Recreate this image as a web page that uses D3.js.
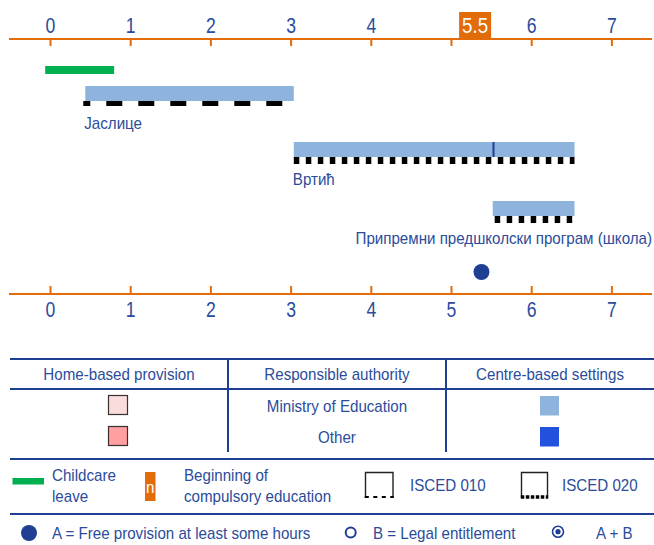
<!DOCTYPE html>
<html>
<head>
<meta charset="utf-8">
<script src="https://cdn.jsdelivr.net/npm/d3@7/dist/d3.min.js"></script>
<style>
  html, body { margin: 0; padding: 0; background: #fff; }
  svg { display: block; }
  text { font-family: "Liberation Sans", Arial, sans-serif; }
</style>
</head>
<body>
<svg id="chart" width="654" height="545"></svg>
<script>
// ---------- data ----------
const ageTicks = [0, 1, 2, 3, 4, 5, 6, 7];
const compulsoryAge = 5.5;
const childcareLeave = [-0.06, 0.8];
const programmeNames = ["Јаслице", "Вртић", "Припремни предшколски програм (школа)"];
const programmeStart = [0.44, 3.04, 5.52];
const programmeEnd = [3.04, 6.54, 6.54];
const programmeIsced = ["010", "020", "020"];
const programmeDivider = [null, 5.53, null];
const freeProvisionAge = [5.38];

const tableHeaders = ["Home-based provision", "Responsible authority", "Centre-based settings"];
const authorities = ["Ministry of Education", "Other"];
const homeColors = ["#fadcdc", "#ff9f9f"];
const centreColors = ["#8eb4de", "#2252dd"];

// ---------- styles ----------
const ORANGE = "#e36c0a";
const TEXT = "#2b4c9b";
const NAVY = "#1f3f94";
const BAR = "#8eb4de";
const W = 654;
const FS = 17, SX = 0.89;      // body text size and horizontal squeeze
const AFS = 22, ASX = 0.8;     // axis digits

const svg = d3.select("#chart");
const x = d3.scaleLinear().domain([0, 7]).range([50, 611.4]);

// condensed text helper
function txt(parent, tx, ty, str, o = {}) {
  const sx = o.sx || SX;
  return parent.append("text")
    .attr("x", tx / sx).attr("y", ty)
    .attr("transform", `scale(${sx},1)`)
    .attr("text-anchor", o.anchor || "start")
    .attr("fill", o.fill || TEXT)
    .attr("font-size", o.fs || FS)
    .text(str);
}

// ---------- top axis ----------
const topY = 39;
svg.append("line").attr("x1", 9).attr("x2", 652).attr("y1", topY).attr("y2", topY)
  .attr("stroke", ORANGE).attr("stroke-width", 2);
const gTop = svg.append("g").attr("transform", `translate(0,${topY})`)
  .call(d3.axisTop(x).tickValues(ageTicks).tickSizeInner(-7).tickSizeOuter(0).tickPadding(6)
    .tickFormat(d => d === Math.floor(compulsoryAge) ? "" : d3.format("d")(d)));
gTop.select(".domain").remove();
gTop.selectAll(".tick line").attr("stroke", ORANGE).attr("stroke-width", 2);
gTop.selectAll(".tick text").attr("fill", TEXT).attr("font-size", AFS).attr("transform", `scale(${ASX},1)`);

// compulsory education box
svg.append("rect").attr("x", x(compulsoryAge) - 32).attr("y", 12).attr("width", 32).attr("height", topY - 12)
  .attr("fill", ORANGE);
txt(svg, x(compulsoryAge) - 16, 33, compulsoryAge, { anchor: "middle", fill: "#fff", fs: AFS, sx: 0.85 });

// ---------- bottom axis ----------
const botY = 294;
svg.append("line").attr("x1", 9).attr("x2", 652).attr("y1", botY).attr("y2", botY)
  .attr("stroke", ORANGE).attr("stroke-width", 2);
const gBot = svg.append("g").attr("transform", `translate(0,${botY})`)
  .call(d3.axisBottom(x).tickValues(ageTicks).tickSizeInner(-8).tickSizeOuter(0).tickPadding(7)
    .tickFormat(d3.format("d")));
gBot.select(".domain").remove();
gBot.selectAll(".tick line").attr("stroke", ORANGE).attr("stroke-width", 2);
gBot.selectAll(".tick text").attr("fill", TEXT).attr("font-size", AFS).attr("transform", `scale(${ASX},1)`);

// ---------- childcare leave ----------
svg.append("rect").attr("x", x(childcareLeave[0])).attr("y", 66)
  .attr("width", x(childcareLeave[1]) - x(childcareLeave[0])).attr("height", 8)
  .attr("fill", "#00b050");

// ---------- programmes ----------
const rowY = d3.scaleOrdinal().domain(programmeNames).range([86, 142, 201]);
const barH = 15;
const progs = programmeNames.map((n, i) => ({ name: n, start: programmeStart[i], end: programmeEnd[i], isced: programmeIsced[i], divider: programmeDivider[i] }));

const pg = svg.selectAll("g.prog").data(progs).join("g").attr("class", "prog");
pg.append("rect")
  .attr("x", d => x(d.start)).attr("y", d => rowY(d.name))
  .attr("width", d => x(d.end) - x(d.start)).attr("height", barH)
  .attr("fill", BAR);
pg.filter(d => d.divider != null).append("line")
  .attr("x1", d => x(d.divider)).attr("x2", d => x(d.divider))
  .attr("y1", d => rowY(d.name)).attr("y2", d => rowY(d.name) + barH)
  .attr("stroke", NAVY).attr("stroke-width", 2);
// ISCED lines
pg.append("line")
  .attr("x1", d => x(d.start) - (d.isced === "010" ? 2 : 0)).attr("x2", d => x(d.end))
  .attr("y1", d => rowY(d.name) + barH + (d.isced === "010" ? 2.5 : 3.5))
  .attr("y2", d => rowY(d.name) + barH + (d.isced === "010" ? 2.5 : 3.5))
  .attr("stroke", "#000")
  .attr("stroke-width", d => d.isced === "010" ? 5 : 7)
  .attr("stroke-dasharray", d => d.isced === "010" ? "16,16" : "5.5,6.5")
  .attr("stroke-dashoffset", d => d.isced === "010" ? 9 : (d.start > 5 ? -2 : 0));
// labels
pg.each(function(d) {
  const t = txt(d3.select(this), 0, rowY(d.name) + 43, d.name);
  const w = t.node().getComputedTextLength() * SX;
  const lx = Math.min(x(d.start) - 1, W - 2 - w);
  t.attr("x", lx / SX);
});

// free provision dot
svg.selectAll("circle.free").data(freeProvisionAge).join("circle").attr("class", "free")
  .attr("cx", d => x(d)).attr("cy", 272).attr("r", 8).attr("fill", NAVY);

// ---------- table ----------
const colEdges = [10, 228, 446, 654];
const hLine = (y) => svg.append("line").attr("x1", 10).attr("x2", 654).attr("y1", y).attr("y2", y)
  .attr("stroke", NAVY).attr("stroke-width", 2);
hLine(359); hLine(389); hLine(459); hLine(514);
[228, 446].forEach(cx => svg.append("line").attr("x1", cx).attr("x2", cx).attr("y1", 359).attr("y2", 452)
  .attr("stroke", NAVY).attr("stroke-width", 2));

tableHeaders.forEach((h, i) => txt(svg, (colEdges[i] + colEdges[i + 1]) / 2, 380, h, { anchor: "middle" }));

const rowCy = [405.5, 436.5];
authorities.forEach((a, i) => txt(svg, 337, rowCy[i] + 6.5, a, { anchor: "middle" }));
svg.selectAll("rect.home").data(homeColors).join("rect").attr("class", "home")
  .attr("x", 108.5).attr("y", (d, i) => rowCy[i] - 10).attr("width", 19).attr("height", 19)
  .attr("fill", d => d).attr("stroke", "#3a3030").attr("stroke-width", 1.2);
svg.selectAll("rect.centre").data(centreColors).join("rect").attr("class", "centre")
  .attr("x", 540).attr("y", (d, i) => rowCy[i] - 9.5).attr("width", 19).attr("height", 19.5)
  .attr("fill", d => d);

// ---------- legend row 1 ----------
svg.append("rect").attr("x", 12.5).attr("y", 478).attr("width", 31.5).attr("height", 6.5).attr("fill", "#00b050");
txt(svg, 52, 481.5, "Childcare");
txt(svg, 52, 502.5, "leave");

svg.append("rect").attr("x", 145).attr("y", 472).attr("width", 10.5).attr("height", 29).attr("fill", ORANGE);
txt(svg, 150.3, 493, "n", { anchor: "middle", fill: "#fff" });
txt(svg, 184, 481.5, "Beginning of");
txt(svg, 184, 502.5, "compulsory education");

function iscedIcon(x0, x1, dash, sw) {
  const g = svg.append("g");
  g.append("path").attr("d", `M${x0},498 V472.5 H${x1} V498`).attr("fill", "none")
    .attr("stroke", "#222").attr("stroke-width", 1.4);
  g.append("line").attr("x1", x0 - 0.7).attr("x2", x1 + 0.7).attr("y1", 497).attr("y2", 497)
    .attr("stroke", "#000").attr("stroke-width", sw).attr("stroke-dasharray", dash);
}
iscedIcon(365.5, 393, "4,4.5", 2);
iscedIcon(521.5, 547.5, "3.5,1.5", 3.5);
txt(svg, 410, 491, "ISCED 010");
txt(svg, 562, 491, "ISCED 020");

// ---------- legend row 2 ----------
svg.append("circle").attr("cx", 29).attr("cy", 533).attr("r", 8).attr("fill", NAVY);
txt(svg, 52, 539, "A = Free provision at least some hours");
svg.append("circle").attr("cx", 350.7).attr("cy", 532.5).attr("r", 5).attr("fill", "#fff").attr("stroke", NAVY).attr("stroke-width", 2);
txt(svg, 373, 539, "B = Legal entitlement");
svg.append("circle").attr("cx", 558).attr("cy", 531.7).attr("r", 5.5).attr("fill", "#fff").attr("stroke", NAVY).attr("stroke-width", 1.6);
svg.append("circle").attr("cx", 558).attr("cy", 531.7).attr("r", 2.6).attr("fill", NAVY);
txt(svg, 596, 539, "A + B");
</script>
</body>
</html>
